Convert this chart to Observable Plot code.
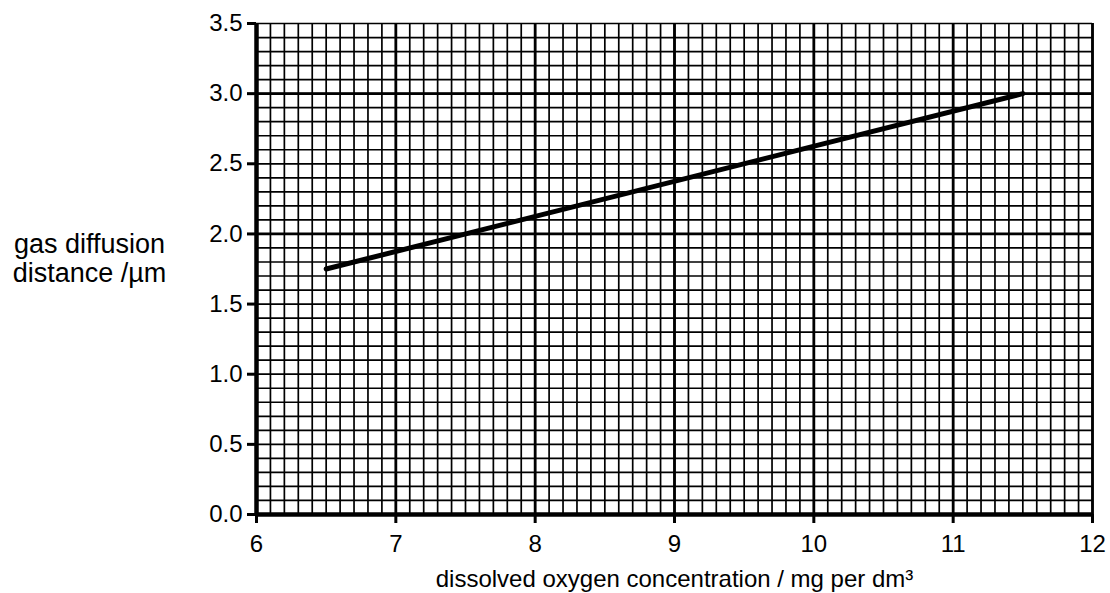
<!DOCTYPE html>
<html>
<head>
<meta charset="utf-8">
<script src="https://cdn.jsdelivr.net/npm/d3@7"></script>
<script src="https://cdn.jsdelivr.net/npm/@observablehq/plot@0.6"></script>
<style>
  html, body { margin: 0; padding: 0; background: #fff; }
  svg { display: block; }
</style>
</head>
<body>
<div id="chart"></div>
<script>
// Data
const lineX = [6.5, 11.5];          // dissolved oxygen concentration / mg per dm3
const lineY = [1.75, 3.0];          // gas diffusion distance / µm
const xTicks = [6, 7, 8, 9, 10, 11, 12];
const yTicks = [0, 0.5, 1.0, 1.5, 2.0, 2.5, 3.0, 3.5];
const yMajorGrid = [2.0, 3.0];
const xLabel = "dissolved oxygen concentration / mg per dm³";
const yLabel = "gas diffusion\ndistance /µm";

const lineData = lineX.map((x, i) => ({x, y: lineY[i]}));
const xMinor = d3.range(60, 121).map(d => d / 10);
const yMinor = d3.range(0, 36).map(d => d / 10);

const plot = Plot.plot({
  width: 1110,
  height: 593,
  marginLeft: 256,
  marginRight: 18,
  marginTop: 23,
  marginBottom: 79,
  style: {fontFamily: "'Liberation Sans', Arial, sans-serif", fontSize: "22px", color: "#000", background: "#fff"},
  x: {domain: [6, 12]},
  y: {domain: [0, 3.5]},
  marks: [
    Plot.ruleX(xMinor, {stroke: "#000", strokeWidth: 1.7}),
    Plot.ruleY(yMinor, {stroke: "#000", strokeWidth: 1.7}),
    Plot.ruleX(xTicks, {stroke: "#000", strokeWidth: 2.8}),
    Plot.ruleY(yMajorGrid, {stroke: "#000", strokeWidth: 2.8}),
    Plot.ruleX([6], {stroke: "#000", strokeWidth: 4.5}),
    Plot.ruleY([0], {stroke: "#000", strokeWidth: 4.5}),
    Plot.axisX({ticks: xTicks, tickFormat: d => String(d), tickSize: 9, tickPadding: 11, strokeWidth: 3, label: null, fontSize: 24}),
    Plot.axisY({ticks: yTicks, tickFormat: d => d.toFixed(1), tickSize: 9, tickPadding: 5, strokeWidth: 3, label: null, fontSize: 24}),
    Plot.line(lineData, {x: "x", y: "y", stroke: "#000", strokeWidth: 5}),
    Plot.text([yLabel], {frameAnchor: "left", dx: -167, dy: -11, textAnchor: "middle", lineHeight: 1.08, fontSize: 27, fill: "#000"}),
    Plot.text([xLabel], {frameAnchor: "bottom", dy: 72, textAnchor: "middle", fontSize: 24, fill: "#000"})
  ]
});
document.getElementById("chart").appendChild(plot);
</script>
</body>
</html>
